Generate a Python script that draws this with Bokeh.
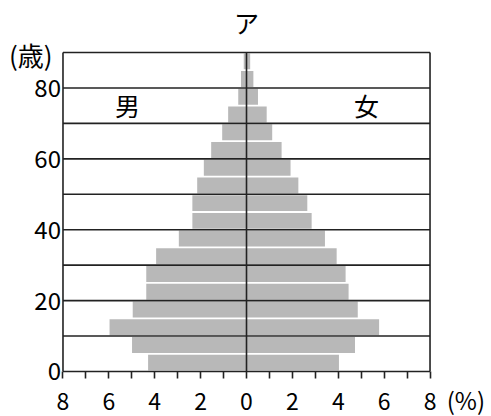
from bokeh.plotting import figure
from bokeh.models import FixedTicker, Label, ColumnDataSource
from bokeh.embed import file_html
from bokeh.resources import INLINE

# Age groups (lower bound of each 5-year class)
ages = [0, 5, 10, 15, 20, 25, 30, 35, 40, 45, 50, 55, 60, 65, 70, 75, 80, 85]
# Percent of population
male = [4.29, 4.99, 5.97, 4.96, 4.37, 4.37, 3.94, 2.95, 2.36, 2.36, 2.15, 1.86, 1.54, 1.06, 0.80, 0.36, 0.24, 0.12]
female = [4.03, 4.73, 5.78, 4.85, 4.45, 4.32, 3.93, 3.42, 2.84, 2.65, 2.26, 1.92, 1.53, 1.12, 0.88, 0.50, 0.30, 0.16]
x_ticks = [-8, -6, -4, -2, 0, 2, 4, 6, 8]
x_minor = [-8, -7, -6, -5, -4, -3, -2, -1, 0, 1, 2, 3, 4, 5, 6, 7, 8]
y_ticks = [0, 20, 40, 60, 80]
grid_ages = [0, 10, 20, 30, 40, 50, 60, 70, 80, 90]
x_min, x_max = -8, 8
age_max = 90

FONT = "Noto Sans CJK JP"
LINE = "#222222"

src = ColumnDataSource(dict(
    y=[a + 2.5 for a in ages],
    left=[-m for m in male],
    right=female,
))

# Frame fills the whole canvas; ranges chosen so the chart area sits like the reference
p = figure(width=491, height=416, x_range=(-10.724, 10.68), y_range=(-12.70, 104.67),
           output_backend="svg", toolbar_location=None,
           min_border_left=0, min_border_right=0, min_border_top=0, min_border_bottom=0)
p.background_fill_color = "white"
p.border_fill_color = "white"
p.outline_line_color = None
p.xgrid.visible = False
p.ygrid.visible = False

p.hbar(y="y", left="left", right="right", height=4.5, source=src,
       fill_color="#b8b8b8", line_color=None)

# horizontal rules (including frame top and bottom)
p.segment(x0=[x_min] * len(grid_ages), x1=[x_max] * len(grid_ages),
          y0=grid_ages, y1=grid_ages, line_color=LINE, line_width=1.6)
# frame sides and centre line
p.segment(x0=[x_min, 0, x_max], x1=[x_min, 0, x_max], y0=[0, 0, 0],
          y1=[age_max, age_max, age_max], line_color=LINE, line_width=1.6)

xa = p.xaxis[0]
xa.fixed_location = 0
xa.ticker = FixedTicker(ticks=x_ticks, minor_ticks=x_minor)
xa.major_label_overrides = {t: str(abs(t)) for t in x_ticks}
xa.major_tick_out = 0
xa.major_tick_in = 0
xa.minor_tick_out = 7
xa.minor_tick_in = 0
xa.minor_tick_line_color = LINE
xa.minor_tick_line_width = 1.6
xa.axis_line_color = None
xa.major_label_standoff = 15
xa.major_label_text_font = FONT
xa.major_label_text_font_size = "23px"
xa.major_label_text_color = "black"

ya = p.yaxis[0]
ya.fixed_location = x_min
ya.ticker = FixedTicker(ticks=y_ticks)
ya.major_tick_out = 0
ya.major_tick_in = 0
ya.minor_tick_line_color = None
ya.axis_line_color = None
ya.major_label_standoff = 2
ya.major_label_text_font = FONT
ya.major_label_text_font_size = "24px"
ya.major_label_text_color = "black"

def lab(x, y, t, size="25px", align="center"):
    p.add_layout(Label(x=x, y=y, text=t, text_font=FONT, text_font_size=size,
                       text_align=align, text_baseline="middle", text_color="black"))

lab(0, 98.5, "ア")
lab(-9.4, 89.4, "(歳)", "26px")
lab(-5.19, 75.1, "男")
lab(5.23, 75.1, "女")
lab(10.4, -7.9, "(%)", "24px", "right")

open("out.html", "w").write(file_html(p, INLINE))
